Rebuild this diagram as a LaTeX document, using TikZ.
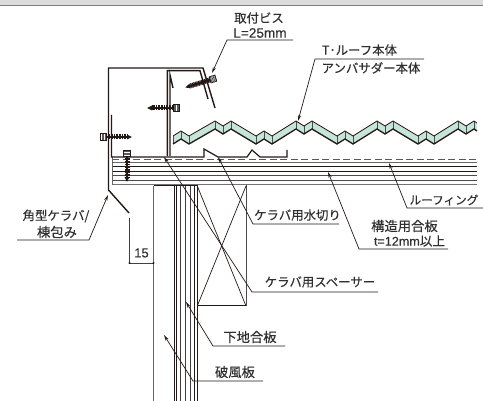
\documentclass[tikz,border=0pt]{standalone}
\usepackage{fontspec}
\setmainfont{Liberation Sans}
\newfontfamily\jpfont[FakeBold=0.35]{Noto Sans CJK JP}
\newfontfamily\latfont[FakeBold=0.2]{Liberation Sans}
\usetikzlibrary{arrows.meta}
\definecolor{ink}{HTML}{231815}
\definecolor{txt}{HTML}{303030}
\definecolor{teal}{HTML}{C5E5DA}
\tikzset{
  x=1pt,y=-1pt,
  heavy/.style={line width=1.4pt,draw=ink,line join=miter},
  thin/.style={line width=.8pt,draw=ink},
  mid/.style={line width=1pt,draw=ink},
  grayl/.style={line width=1pt,draw=black!60},
  leader/.style={line width=.7pt,draw=ink,-{Stealth[length=6pt,width=3.2pt]}},
  lbl/.style={inner sep=0pt,text=txt,font=\jpfont\fontsize{12.4}{12.4}\selectfont},
  kanji/.style={inner sep=0pt,text=txt,font=\jpfont\fontsize{13.3}{13.3}\selectfont},
  latin/.style={inner sep=0pt,text=txt,font=\latfont\fontsize{13.6}{13.6}\selectfont},
  screwpic/.pic={
    \draw[line width=6pt,draw=black!65,dash pattern=on .9pt off .6pt] (-3,0)--(3,0);
    \draw[line width=.7pt,draw=ink] (-3,-3.2) rectangle (3,3.2);
    \draw[line width=5pt,draw=ink,dash pattern=on 1pt off .6pt] (3,0)--(24,0);
    \draw[line width=2.6pt,draw=ink] (3,0)--(24,0);
    \fill[ink] (24,-2.4)--(29,0)--(24,2.4)--cycle;
  }
}
\begin{document}
\begin{tikzpicture}
\useasboundingbox (0,0) rectangle (483,401);
% top band
\fill[black!14] (0,0) rectangle (483,4.7);
\fill[black!50] (0,4.7) rectangle (483,6.5);

% roof panel
\path[fill=teal] (173,136)--(181,131)--(189,136)--(215,121)--(223,126)--(231,121)--(256,136)--(264,131)--(272,136)--(296,121)--(304,126)--(312,121)--(337,136)--(345,131)--(353,136)--(377,121)--(385,126)--(393,121)--(418,136)--(426,131)--(434,136)--(458,121)--(466,126)--(474,121)--(477,123)
 --(477,131)--(474,129)--(466,134)--(458,129)--(434,144)--(426,139)--(418,144)--(393,129)--(385,134)--(377,129)--(353,144)--(345,139)--(337,144)--(312,129)--(304,134)--(296,129)--(272,144)--(264,139)--(256,144)--(231,129)--(223,134)--(215,129)--(189,144)--(181,139)--(173,144)--cycle;
\foreach \px/\py in {173/136,181/131,189/136,215/121,223/126,231/121,256/136,264/131,272/136,296/121,304/126,312/121,337/136,345/131,353/136,377/121,385/126,393/121,418/136,426/131,434/136,458/121,466/126,474/121}
  \draw[line width=.6pt,draw=black!70] (\px,\py)--(\px,\py+8);
\draw[line width=.8pt,draw=ink] (173,136)--(181,131)--(189,136)--(215,121)--(223,126)--(231,121)--(256,136)--(264,131)--(272,136)--(296,121)--(304,126)--(312,121)--(337,136)--(345,131)--(353,136)--(377,121)--(385,126)--(393,121)--(418,136)--(426,131)--(434,136)--(458,121)--(466,126)--(474,121)--(477,123);
\draw[line width=1.3pt,draw=ink] (173,144)--(181,139)--(189,144)--(215,129)--(223,134)--(231,129)--(256,144)--(264,139)--(272,144)--(296,129)--(304,134)--(312,129)--(337,144)--(345,139)--(353,144)--(377,129)--(385,134)--(393,129)--(418,144)--(426,139)--(434,144)--(458,129)--(466,134)--(474,129)--(477,131);

% plywood layers
\draw[line width=.9pt,draw=black!65,dash pattern=on 7pt off 3.5pt] (112,159.5)--(477,159.5);
\draw[line width=.6pt,draw=black!60] (112,162.5)--(477,162.5);
\draw[thin] (112,166)--(477,166);
\draw[thin] (112,171)--(477,171);
\draw[line width=.6pt,draw=black!70] (112,175.7)--(477,175.7);
\draw[line width=.6pt,draw=black!70] (112,180.5)--(477,180.5);
\draw[line width=1pt,draw=black!55] (112,185)--(477,185);
\draw[line width=.8pt,draw=black!60] (112,157)--(112,185);

% water cut-off
\draw[line width=1.2pt,draw=ink] (111.5,115)--(111.5,157)--(204,157)--(204,149)--(218,157)--(240,157);
\draw[line width=1.2pt,draw=ink] (240,157)--(247,157)--(252,150)--(260,157)--(287,157)--(287,150);

% flashing
\draw[heavy] (129,213)--(108.5,190)--(108.5,68)--(203,68)--(215,108);
\draw[heavy] (167.3,156)--(167.3,70.7)--(200,70.7)--(208,99);
\draw[heavy] (173,88)--(170,75)--(170,156);

% fascia and substrate
\draw[mid] (153.5,186)--(197.5,186);
\draw[grayl] (153.5,186)--(153.5,401);
\foreach \vx/\vw/\vc in {174.3/1.1/ink,176.8/.7/ink,180/.8/black!75,185/.8/black!75,190/.8/black!75,194/.9/ink,197.3/1.1/ink}
  \draw[line width=\vw pt,draw=\vc] (\vx,186)--(\vx,401);

% batten
\draw[line width=1pt,draw=black!70] (246,185)--(246,306);
\draw[mid] (197.3,306)--(246,306);
\draw[line width=.7pt,draw=ink] (197.3,306)--(246,186);
\draw[line width=.7pt,draw=ink] (197.3,186)--(246,306);

% screws
\pic[rotate=180] at (176,108) {screwpic};
\pic[rotate=197] at (213,79) {screwpic};
\pic at (103,137) {screwpic};
\pic[rotate=-90] at (127,153) {screwpic};

% dimension
\coordinate (d1) at (129.5,218);
\coordinate (d2) at (129.5,263);
\coordinate (d3) at (153.5,263);
\draw[line width=.8pt,draw=black!75] (d1)--(d2)--(d3);
\fill[ink] (d2) circle (1.2pt) (d3) circle (1.2pt);
\node[latin,font=\latfont\fontsize{13}{13}\selectfont] (dimlabel) at (141.5,253) {15};

% labels
\node[lbl] (ta) at (259,18) {取付ビス};
\node[latin] (tb) at (260,33) {L=25mm};
\node[lbl] (ra) at (359.5,50) {T･ルーフ本体};
\node[lbl] (rb) at (371,68) {アンバサダー本体};
\node[lbl,font=\jpfont\fontsize{11.6}{11.6}\selectfont] (rf) at (444,200) {ルーフィング};
\node[lbl] (mk) at (297.5,215) {ケラバ用水切り};
\node[kanji] (ka) at (404.5,226) {構造用合板};
\node[lbl,font=\jpfont\fontsize{12.6}{12.6}\selectfont] (kb) at (409.5,241) {\latfont t=12mm\jpfont 以上};
\node[lbl] (sp) at (320,282) {ケラバ用スペーサー};
\node[kanji] (sg) at (250,337) {下地合板};
\node[kanji] (hf) at (235,372) {破風板};
\node[lbl] (kk) at (56,216) {角型ケラバ/};
\node[kanji] (mn) at (57,232) {棟包み};

% leaders
\coordinate (t1) at (212,73); \coordinate (e1) at (227,40); \coordinate (f1) at (293,40);
\coordinate (t2) at (298,121); \coordinate (e2) at (315,59); \coordinate (f2) at (424,59);
\coordinate (t3) at (389,163); \coordinate (e3) at (407,208); \coordinate (f3) at (483,208);
\coordinate (t4) at (328,172); \coordinate (e4) at (359,249); \coordinate (f4) at (448,249);
\coordinate (t5) at (218,157); \coordinate (e5) at (253,224); \coordinate (f5) at (339,224);
\coordinate (t6) at (164,157); \coordinate (e6) at (252,292); \coordinate (f6) at (378,292);
\coordinate (t7) at (186,302); \coordinate (e7) at (213,346); \coordinate (f7) at (285,346);
\coordinate (t8) at (164,335); \coordinate (e8) at (193,381); \coordinate (f8) at (263,381);
\coordinate (t9) at (108,195); \coordinate (e9) at (89,240); \coordinate (f9) at (17,240);
\foreach \n in {1,...,9}
  \draw[leader] (f\n)--(e\n)--(t\n);
\end{tikzpicture}
\end{document}
